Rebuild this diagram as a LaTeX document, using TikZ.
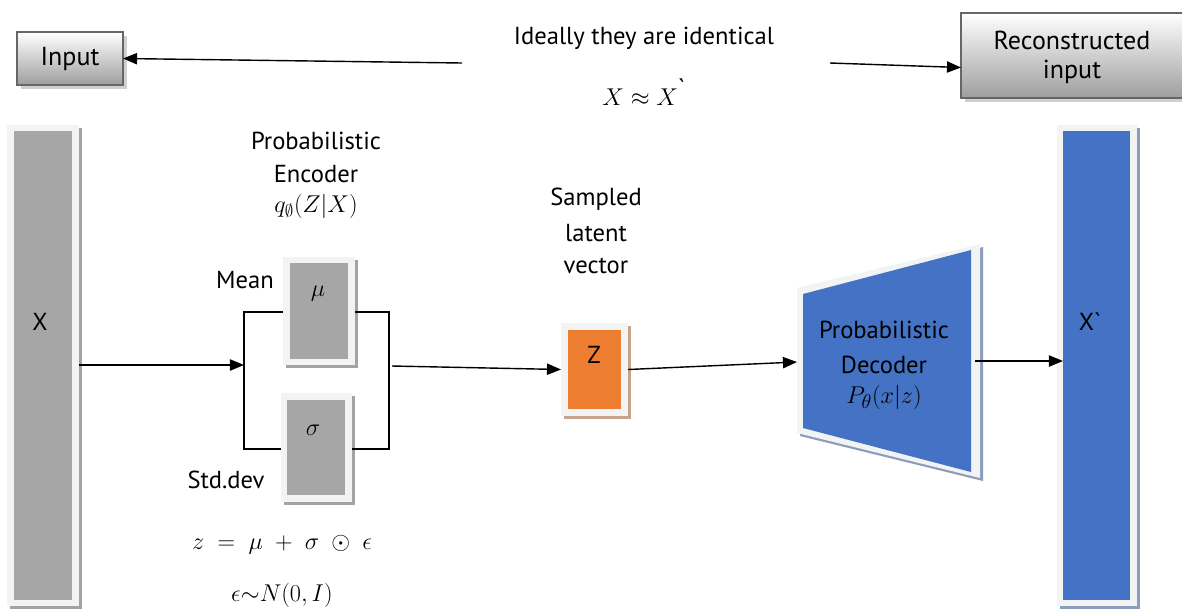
\documentclass[tikz,border=0pt]{standalone}
\usepackage{fontspec}
\setmainfont{PT Sans}
\usetikzlibrary{arrows.meta,shadows}
\definecolor{boxgray}{HTML}{A6A6A6}
\definecolor{framec}{HTML}{F2F3F3}
\definecolor{vblue}{HTML}{4472C4}
\definecolor{vorange}{HTML}{ED7D31}
\definecolor{gshadow}{HTML}{A3A3A3}
\definecolor{bshadow}{HTML}{8C9CBC}
\definecolor{oshadow}{HTML}{C9A48C}
\definecolor{tshadow}{HTML}{D0D0D0}
\newcommand\myrect[6]{\node[#6,inner sep=0pt,outer sep=0pt,minimum width={(#4-#2)*0.025cm},minimum height={(#5-#3)*0.025cm}] (#1) at ({(#2+#4)/2},{(#3+#5)/2}) {};}
\tikzset{
  lbl/.style={font=\fontsize{17.5}{20}\selectfont, inner sep=0pt},
  big/.style={font=\fontsize{18.5}{22}\selectfont, inner sep=0pt, align=center},
  mth/.style={font=\fontsize{17.5}{20}\selectfont, inner sep=0pt},
  eqn/.style={font=\fontsize{19}{22}\selectfont, inner sep=0pt},
  arr/.style={-{Triangle[length=10pt,width=8pt]}, line width=1pt},
  conn/.style={line width=1pt},
  topbox/.style={draw=black!60, line width=1.3pt, top color=white, bottom color=black!38,
     drop shadow={shadow xshift=0.1cm, shadow yshift=-0.1cm, fill=tshadow, opacity=1}},
  gframe/.style={fill=framec, drop shadow={shadow xshift=0.075cm, shadow yshift=-0.075cm, fill=gshadow, opacity=1}},
  bframe/.style={fill=framec, drop shadow={shadow xshift=0.075cm, shadow yshift=-0.075cm, fill=bshadow, opacity=1}},
  oframe/.style={fill=framec, drop shadow={shadow xshift=0.075cm, shadow yshift=-0.075cm, fill=oshadow, opacity=1}},
  ginner/.style={fill=boxgray},
  binner/.style={fill=vblue},
  oinner/.style={fill=vorange},
}
\begin{document}
\begin{tikzpicture}[x=0.025cm,y=-0.025cm]
\useasboundingbox (0,0) rectangle (1182,608);

% top boxes
\myrect{inp}{17}{32}{123}{85}{topbox}
\node[big] (inpt) at (70,58.5) {Input};
\myrect{rec}{961}{13}{1186}{98}{topbox}
\node[big] (rect) at (1072,40) {Reconstructed};
\node[big] (rect2) at (1072,72) {input};
\node[lbl] (ideal) at (644,38) {Ideally they are identical};
\node[mth] (approx) at (644,92) {$X \approx X^{\mbox{\textasciigrave}}$};
\coordinate (i1) at (462,63);
\coordinate (i2) at (830,63);
\draw[arr] (i1) -- (inp.east);
\draw[arr] (i2) -- ([yshift=-0.3cm]rec.west);

% X bar
\myrect{xf}{7}{125}{79}{606}{gframe}
\myrect{xi}{14}{131}{72}{600}{ginner}
\node[lbl] (xl) at (40,322) {X};

% encoder labels
\node[lbl] (pe1) at (316,141) {Probabilistic};
\node[lbl] (pe2) at (316,174) {Encoder};
\node[mth] (pe3) at (316,206) {$q_{\emptyset}(Z|X)$};
\node[lbl] (mean) at (245,280) {Mean};
\node[lbl] (std) at (226,480) {Std.dev};

% mu and sigma
\myrect{mf}{283}{257}{355}{365}{gframe}
\myrect{mi}{290}{263}{348}{359}{ginner}
\node[mth] (mul) at (318,294) {$\mu$};
\myrect{sf}{281}{393}{352}{502}{gframe}
\myrect{si}{287}{400}{345}{495}{ginner}
\node[mth] (sgl) at (313,430) {$\sigma$};

\coordinate (lt) at (244,312);
\coordinate (lb) at (244,449);
\coordinate (rt) at (389,312);
\coordinate (rb) at (389,449);
\coordinate (jl) at (244,365);
\coordinate (jr) at (392,366);
\draw[conn] (mf.west |- lt) -- (lt) -- (lb) -- (sf.west |- lb);
\draw[conn] (mf.east |- rt) -- (rt) -- (rb) -- (sf.east |- rb);
\draw[arr] (xf.east |- jl) -- (jl);

\node[eqn] (eq1) at (282,545) {$z \;=\; \mu \;+\; \sigma \;\odot\; \epsilon$};
\node[eqn] (eq2) at (282,595) {$\epsilon{\sim}N(0,I)$};

% Z
\node[lbl] (s1) at (596,199) {Sampled};
\node[lbl] (s2) at (596,233) {latent};
\node[lbl] (s3) at (596,266) {vector};
\myrect{zf}{561}{323}{628}{416}{oframe}
\myrect{zi}{568}{330}{621}{409}{oinner}
\node[lbl] (zl) at (594,355) {Z};
\draw[arr] (jr) -- (zf.west);

% decoder
\fill[bshadow] (800,291) -- (983,247) -- (983,481) -- (800,436) -- cycle;
\fill[framec] (797,288) -- (980,244) -- (980,478) -- (797,433) -- cycle;
\fill[vblue] (803,294) -- (971,250) -- (971,472) -- (803,428) -- cycle;
\coordinate (dl) at (797,362);
\coordinate (dr) at (975,361);
\node[lbl] (pd1) at (884,330) {Probabilistic};
\node[lbl] (pd2) at (884,365) {Decoder};
\node[eqn] (pd3) at (884,397) {$P_{\theta}(x|z)$};
\draw[arr] (zf.east) -- (dl);

% X' bar
\myrect{xpf}{1057}{125}{1137}{606}{bframe}
\myrect{xpi}{1063}{131}{1130}{600}{binner}
\node[lbl] (xpl) at (1090,322) {X\textasciigrave};
\draw[arr] (dr) -- (xpi.west |- dr);
\end{tikzpicture}
\end{document}
